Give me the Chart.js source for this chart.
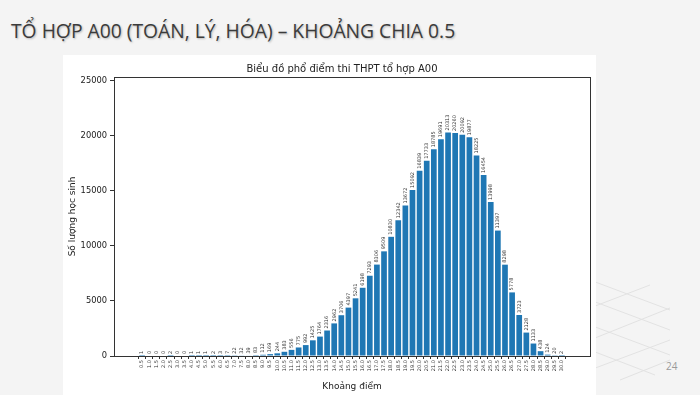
<!DOCTYPE html>
<html>
<head>
<meta charset="utf-8">
<script src="https://cdn.jsdelivr.net/npm/chart.js@4.4.1/dist/chart.umd.min.js"></script>
<style>
  html, body { margin: 0; padding: 0; }
  body { width: 700px; height: 395px; background: #f4f4f4; position: relative; overflow: hidden; font-family: "Open Sans", "Noto Sans", sans-serif; }
  #slideTitle { position: absolute; left: 11px; top: 17px; font-size: 19.3px; color: #3b3b3b; white-space: nowrap; text-shadow: 1px 1px 2px rgba(0,0,0,0.25); }
  #panel { position: absolute; left: 63px; top: 55px; width: 533px; height: 340px; background: #ffffff; }
  #pageNum { position: absolute; left: 666px; top: 359px; font-size: 10px; color: #9a9a9a; }
  #deco { position: absolute; left: 590px; top: 270px; }
</style>
</head>
<body>
<svg id="deco" width="110" height="125" viewBox="0 0 110 125">
  <g stroke="#e2e2e2" stroke-width="1" fill="none">
    <line x1="0" y1="10" x2="80" y2="40"/>
    <line x1="0" y1="30" x2="80" y2="60"/>
    <line x1="0" y1="55" x2="80" y2="85"/>
    <line x1="0" y1="80" x2="65" y2="105"/>
    <line x1="0" y1="38" x2="60" y2="15"/>
    <line x1="0" y1="70" x2="80" y2="38"/>
    <line x1="0" y1="100" x2="80" y2="70"/>
    <line x1="30" y1="110" x2="80" y2="90"/>
  </g>
</svg>
<div id="slideTitle">TỔ HỢP A00 (TOÁN, LÝ, HÓA) – KHOẢNG CHIA 0.5</div>
<div id="panel"><canvas id="c" width="533" height="340"></canvas></div>
<div id="pageNum">24</div>
<script>
const scoreLabels = ["0.5","1.0","1.5","2.0","2.5","3.0","3.5","4.0","4.5","5.0",
  "5.5","6.0","6.5","7.0","7.5","8.0","8.5","9.0","9.5","10.0",
  "10.5","11.0","11.5","12.0","12.5","13.0","13.5","14.0","14.5","15.0",
  "15.5","16.0","16.5","17.0","17.5","18.0","18.5","19.0","19.5","20.0",
  "20.5","21.0","21.5","22.0","22.5","23.0","23.5","24.0","24.5","25.0",
  "25.5","26.0","26.5","27.0","27.5","28.0","28.5","29.0","29.5","30.0"];
const studentCounts = [1,0,0,0,2,0,0,1,1,1,
  2,3,7,22,32,39,83,112,169,244,
  383,556,775,992,1425,1764,2316,2962,3706,4397,
  5241,6198,7293,8306,9509,10830,12342,13672,15092,16839,
  17733,18785,19691,20313,20260,20092,19877,18225,16454,13998,
  11397,8298,5778,3723,2128,1133,438,124,20,2];
const yTickValues = [0,5000,10000,15000,20000,25000];
const chartTitle = "Biểu đồ phổ điểm thi THPT tổ hợp A00";
const xAxisTitle = "Khoảng điểm";
const yAxisTitle = "Số lượng học sinh";

const points = scoreLabels.map((s, i) => ({ x: parseFloat(s), y: studentCounts[i] }));
const FONT = "'DejaVu Sans', sans-serif";

const valueLabels = {
  id: 'valueLabels',
  afterDatasetsDraw(chart) {
    const ctx = chart.ctx;
    const meta = chart.getDatasetMeta(0);
    ctx.save();
    ctx.font = "5px " + FONT;
    ctx.fillStyle = "#333";
    ctx.textAlign = "left";
    ctx.textBaseline = "middle";
    meta.data.forEach((bar, i) => {
      ctx.save();
      ctx.translate(bar.x, bar.y - 2);
      ctx.rotate(-Math.PI / 2);
      ctx.fillText(String(studentCounts[i]), 0, 0);
      ctx.restore();
    });
    ctx.restore();
  }
};
const frameAndTitle = {
  id: 'frameAndTitle',
  afterDraw(chart) {
    const a = chart.chartArea;
    const ctx = chart.ctx;
    ctx.save();
    ctx.strokeStyle = "#333";
    ctx.lineWidth = 1;
    ctx.strokeRect(Math.round(a.left) + 0.5, Math.round(a.top) + 0.5, Math.round(a.right - a.left), Math.round(a.bottom - a.top));
    ctx.font = "10px " + FONT;
    ctx.fillStyle = "#222";
    ctx.textAlign = "center";
    ctx.textBaseline = "middle";
    ctx.fillText(chartTitle, (a.left + a.right) / 2 - 10, 14);
    ctx.restore();
  }
};

new Chart(document.getElementById('c'), {
  type: 'bar',
  data: {
    datasets: [{
      data: points,
      backgroundColor: '#1f77b4',
      borderWidth: 0,
      barPercentage: 0.8,
      categoryPercentage: 1.0
    }]
  },
  options: {
    responsive: false,
    animation: false,
    devicePixelRatio: 1,
    layout: { padding: { left: 0, right: 6, top: 22, bottom: 0 } },
    plugins: {
      legend: { display: false },
      tooltip: { enabled: false },
      title: { display: false }
    },
    scales: {
      x: {
        type: 'linear',
        min: -1.195,
        max: 31.695,
        afterBuildTicks(scale) {
          scale.ticks = scoreLabels.map(s => ({ value: parseFloat(s) }));
        },
        afterFit(scale) { scale.height = 39; },
        ticks: {
          autoSkip: false,
          maxRotation: 90,
          minRotation: 90,
          padding: 1,
          color: '#333',
          font: { family: FONT, size: 5 },
          callback: (v, i) => scoreLabels[i]
        },
        grid: { display: true, drawOnChartArea: false, drawTicks: true, tickLength: 3, color: '#333' },
        border: { display: true, color: '#333' },
        title: {
          display: true,
          text: xAxisTitle,
          color: '#222',
          font: { family: FONT, size: 9 },
          padding: { top: 0, bottom: 3 }
        }
      },
      y: {
        min: 0,
        max: 25350,
        afterBuildTicks(scale) {
          scale.ticks = yTickValues.map(v => ({ value: v }));
        },
        afterFit(scale) { scale.width = 51; },
        ticks: {
          padding: 3,
          color: '#222',
          font: { family: FONT, size: 8.3 },
          callback: v => String(v)
        },
        grid: { display: true, drawOnChartArea: false, drawTicks: true, tickLength: 4, color: '#333' },
        border: { display: true, color: '#333' },
        title: {
          display: true,
          text: yAxisTitle,
          color: '#222',
          font: { family: FONT, size: 9 },
          padding: { top: 4, bottom: 0 }
        }
      }
    }
  },
  plugins: [valueLabels, frameAndTitle]
});
</script>
</body>
</html>
